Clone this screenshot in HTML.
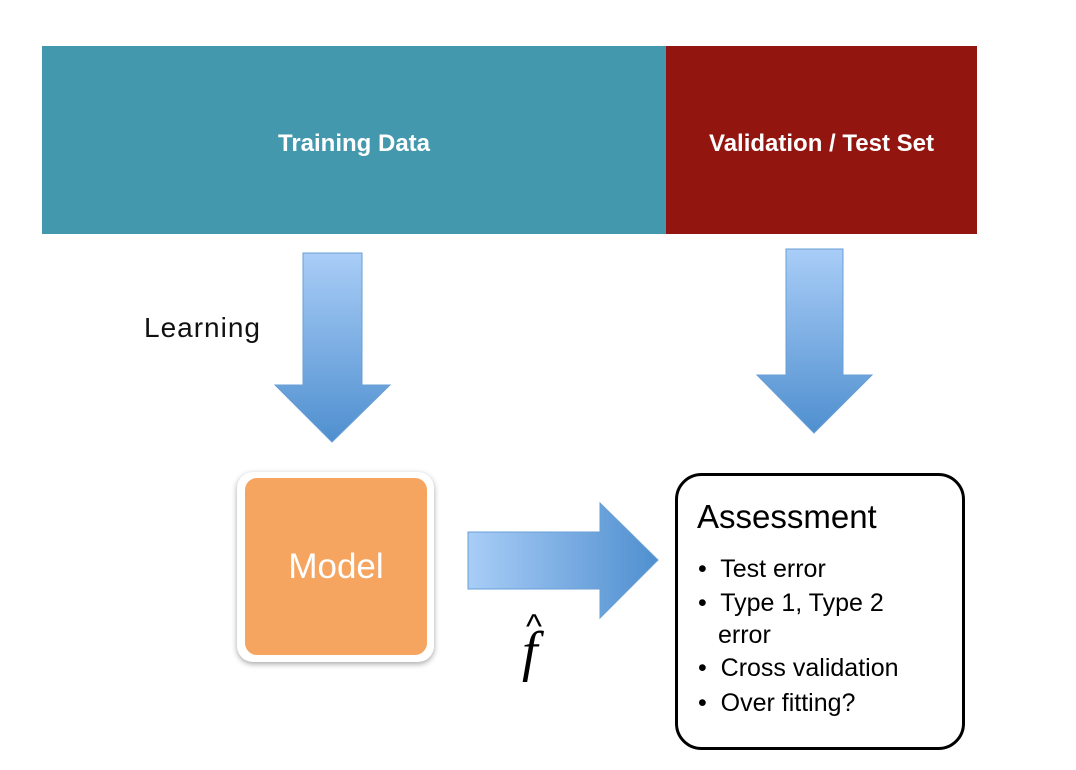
<!DOCTYPE html>
<html><head><style>
body{margin:0;width:1076px;height:770px;background:#fff;position:relative;overflow:hidden;font-family:"Liberation Sans",sans-serif}
.a{position:absolute}
</style></head><body>
<div class="a" style="left:42px;top:46px;width:624px;height:188px;background:#4398ad"></div>
<div class="a" style="left:666px;top:46px;width:311px;height:188px;background:#92150f"></div>
<div class="a" style="left:42px;top:130px;width:624px;text-align:center;color:#fff;font-weight:bold;font-size:24px">Training Data</div>
<div class="a" style="left:666px;top:130px;width:311px;text-align:center;color:#fff;font-weight:bold;font-size:24px">Validation / Test Set</div>
<div class="a" style="left:144px;top:312px;font-size:28px;letter-spacing:1px;color:#111">Learning</div>
<svg class="a" style="left:0;top:0" width="1076" height="770">
<defs>
<linearGradient id="gv" x1="0" y1="0" x2="0" y2="1"><stop offset="0" stop-color="#a9cdf7"/><stop offset="1" stop-color="#4f8fcf"/></linearGradient>
<linearGradient id="gh" x1="0" y1="0" x2="1" y2="0"><stop offset="0" stop-color="#a9cdf7"/><stop offset="1" stop-color="#4f8fcf"/></linearGradient>
</defs>
<polygon points="303,253 362,253 362,385 390,385 332,442 275,385 303,385" fill="url(#gv)" stroke="#6a9fd6" stroke-width="1"/>
<polygon points="786,249 843,249 843,375 872,375 814,433 757,375 786,375" fill="url(#gv)" stroke="#6a9fd6" stroke-width="1"/>
<polygon points="468,532 600,532 600,503 658,560 600,618 600,589 468,589" fill="url(#gh)" stroke="#6a9fd6" stroke-width="1"/>
<rect x="676.5" y="474.5" width="287" height="274" rx="25" fill="#fff" stroke="#000" stroke-width="3"/>
</svg>
<div class="a" style="left:237px;top:472px;width:197px;height:190px;background:#fff;border-radius:16px;box-shadow:0 2px 6px rgba(0,0,0,.35)"></div>
<div class="a" style="left:245px;top:478px;width:182px;height:177px;background:#f6a560;border-radius:12px"></div>
<div class="a" style="left:245px;top:547px;width:182px;text-align:center;color:#fff;font-size:35px">Model</div>
<div class="a" style="left:522px;top:622px;font-family:'Liberation Serif',serif;font-style:italic;font-size:56px;line-height:60px">f</div>
<div class="a" style="left:526px;top:612px;font-size:34px;line-height:30px">^</div>
<div class="a" style="left:697px;top:498px;font-size:33px;color:#000">Assessment</div>
<div class="a" style="left:698px;top:552px;font-size:25px;line-height:35px;color:#000">
<div>•&nbsp; Test error</div>
<div style="line-height:32px">•&nbsp; Type 1, Type 2<br><span style="padding-left:20px">error</span></div>
<div>•&nbsp; Cross validation</div>
<div>•&nbsp; Over fitting?</div>
</div>
</body></html>
